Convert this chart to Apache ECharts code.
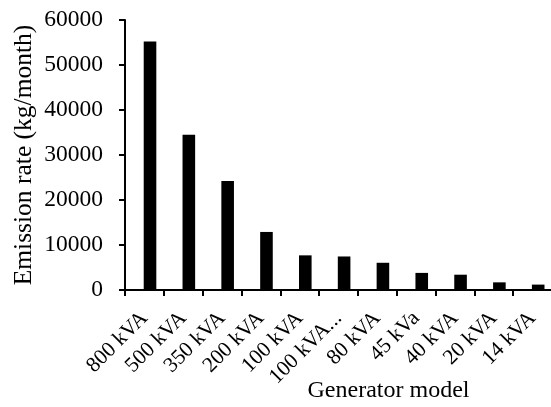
<!DOCTYPE html>
<html>
<head>
<meta charset="utf-8">
<script src="https://cdn.jsdelivr.net/npm/echarts@6/dist/echarts.min.js"></script>
<style>
html,body{margin:0;padding:0;background:#fff;}
#chart{width:551px;height:407px;}
</style>
</head>
<body>
<div id="chart"></div>
<script>
const categories = ['800 kVA','500 kVA','350 kVA','200 kVA','100 kVA','100 kVA...','80 kVA','45 kVa','40 kVA','20 kVA','14 kVA'];
const emission = [55200, 34500, 24200, 12900, 7700, 7450, 6050, 3800, 3400, 1700, 1200];
const yTicks = { min: 0, max: 60000, interval: 10000 };
const xTitle = 'Generator model';
const yTitle = 'Emission rate (kg/month)';

const font = "'Liberation Serif','Times New Roman',serif";
const chart = echarts.init(document.getElementById('chart'), null, {renderer:'canvas'});
chart.setOption({
  animation: false,
  backgroundColor: '#fff',
  grid: { left: 125, top: 20, width: 427, bottom: 117, containLabel: false, outerBoundsMode: 'none' },
  xAxis: {
    type: 'category',
    data: categories,
    name: xTitle,
    nameLocation: 'middle',
    nameGap: 89,
    nameMoveOverlap: false,
    nameTextStyle: { fontFamily: font, fontSize: 24, color: '#000', padding: [0,0,0,100] },
    axisLine: { lineStyle: { color: '#000', width: 2 } },
    axisTick: { show: true, length: 6, lineStyle: { color: '#000', width: 2 }, alignWithLabel: false },
    axisLabel: { interval: 0, rotate: 45, margin: 25, align: 'right', verticalAlign: 'middle',
                 fontFamily: font, fontSize: 21.5, color: '#000' },
    splitLine: { show: false }
  },
  yAxis: {
    type: 'value',
    min: yTicks.min, max: yTicks.max, interval: yTicks.interval,
    name: yTitle,
    nameLocation: 'middle',
    nameGap: 88,
    nameMoveOverlap: false,
    nameTextStyle: { fontFamily: font, fontSize: 25.5, color: '#000' },
    axisLine: { show: true, lineStyle: { color: '#000', width: 2 } },
    axisTick: { show: true, length: 6, lineStyle: { color: '#000', width: 2 } },
    axisLabel: { margin: 22, fontFamily: font, fontSize: 23.5, color: '#000',
                 formatter: function (v) { return String(v); } },
    splitLine: { show: false }
  },
  series: [
    { type: 'bar', name: 'spacer', data: [], barWidth: 12.6, barGap: '-11%' },
    { type: 'bar', name: 'Emission', data: emission, barWidth: 12.6, barGap: '-11%', itemStyle: { color: '#000' } }
  ]
});
</script>
</body>
</html>
